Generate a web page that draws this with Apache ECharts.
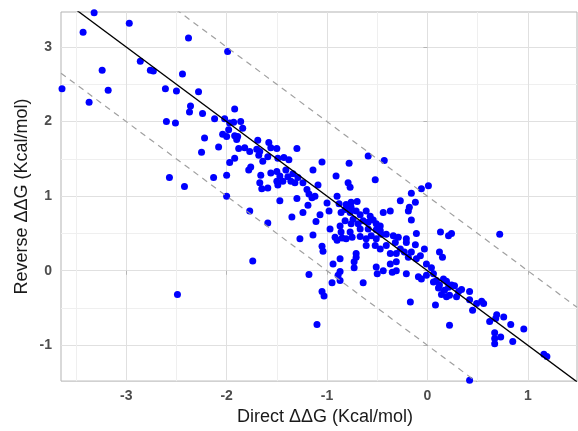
<!DOCTYPE html>
<html>
<head>
<meta charset="utf-8">
<script src="https://cdn.jsdelivr.net/npm/echarts@6/dist/echarts.min.js"></script>
<style>
  html, body { margin: 0; padding: 0; background: #fff; }
  #chart { width: 578px; height: 431px; }
</style>
</head>
<body>
<div id="chart"></div>
<script>
// direct vs reverse ddG
const directDDG = [
  -3.32, -2.97, -3.43, -2.38, -1.99, -2.86, -2.76, -2.73, -3.24, -2.44,
  -3.64, -3.18, -2.61, -2.50, -2.28, -3.37, -2.36, -2.37, -2.24, -1.92,
  -2.60, -2.51, -2.12, -2.02, -1.98, -2.04, -2.00, -2.22, -2.57, -2.42,
  -2.49, 0.42, -1.97, -1.93, -1.86, -1.84, -1.92, -1.89, -1.90, -2.08,
  -2.25, -1.88, -1.82, -1.77, -1.69, -1.70, -1.67, -1.58, -1.56, -1.50,
  -1.30, -1.68, -1.59, -1.49, -1.43, -1.38, -1.92, -1.97, -1.64, -1.76,
  -1.78, -1.66, -2.00, -2.13, -1.56, -1.50, -1.47, -1.41, -1.39, -1.34,
  -1.29, -1.44, -1.50, -1.67, -1.59, -1.65, -1.49, -1.36, -1.32, -1.24,
  -1.14, -1.05, -2.00, -1.77, -1.47, -1.30, -1.20, -1.18, -1.15, -1.12,
  -1.09, -1.19, -1.24, -1.07, -1.00, -0.98, -1.35, -1.11, -0.59, -0.43,
  -0.78, -0.52, -0.91, -0.79, -0.77, -0.90, -0.88, -0.81, -0.76, -0.70,
  -0.76, -0.82, -0.86, -0.77, -0.71, -0.61, -0.67, -0.74, -0.82, -0.87,
  -0.76, -0.69, -0.64, -0.57, -0.54, -0.59, -0.51, -0.47, -0.44, -0.37,
  -0.27, -0.19, -0.16, -0.18, -0.12, -0.16, -0.06, 0.01, 0.13, 0.21,
  0.24, -0.67, -0.61, -0.56, -0.51, -0.46, -0.41, -0.34, -0.29, -0.21,
  -0.11, -0.12, -0.03, -0.61, -0.52, -0.47, -0.41, -0.32, -0.27, -0.37,
  -0.31, -0.23, -0.19, -0.11, -0.07, -0.01, 0.04, 0.12, 0.15, -0.37,
  -0.31, -0.51, -0.71, -0.71, -0.73, -0.87, -0.94, -0.87, -0.89, -1.18,
  -1.05, -1.04, -1.27, -1.14, -0.97, -0.92, -0.90, -0.85, -0.81, -0.86,
  -0.77, -0.75, -0.67, -0.59, -0.51, -0.47, -0.09, -0.01, 0.06, -0.21,
  -0.31, 0.72, 1.16, 1.19, 0.96, 0.85, 0.76, 0.69, 0.68, 0.62,
  0.83, 0.67, 0.73, 0.67, 0.67, 0.54, 0.56, 0.49, 0.42, 0.42,
  0.45, 0.34, 0.31, 0.27, 0.22, -0.17, 0.08, 0.19, 0.17, 0.21,
  0.24, 0.14, 0.11, 0.29, 0.22, 0.16, 0.09, 0.19, 0.12, 0.06,
  -0.06, -1.59, -1.74, -0.95, -0.87, -1.05, -1.03, -1.10, -0.73, -0.64,
  -0.50, -0.44, -0.21, -0.16, -0.35
];
const reverseDDG = [
  3.46, 3.32, 3.20, 3.12, 2.94, 2.81, 2.69, 2.68, 2.69, 2.64,
  2.44, 2.42, 2.44, 2.41, 2.40, 2.26, 2.21, 2.13, 2.11, 2.17,
  2.00, 1.98, 2.04, 2.04, 1.89, 1.83, 1.80, 1.78, 1.25, 1.13,
  -0.32, -1.47, 1.98, 1.99, 2.00, 1.91, 1.81, 1.80, 1.76, 1.66,
  1.59, 1.64, 1.65, 1.60, 1.75, 1.63, 1.60, 1.72, 1.65, 1.64,
  1.64, 1.55, 1.53, 1.51, 1.52, 1.49, 1.51, 1.45, 1.47, 1.39,
  1.35, 1.28, 1.28, 1.25, 1.31, 1.33, 1.27, 1.35, 1.26, 1.30,
  1.25, 1.20, 1.20, 1.18, 1.11, 1.10, 1.15, 1.20, 1.18, 1.18,
  1.35, 1.46, 1.00, 0.80, 0.94, 0.97, 1.09, 1.03, 0.98, 1.00,
  1.15, 0.88, 0.78, 0.75, 0.91, 0.80, 0.72, 0.66, 1.54, 1.48,
  1.44, 1.22, 1.27, 1.18, 1.12, 1.00, 0.90, 0.89, 0.92, 0.93,
  0.85, 0.82, 0.78, 0.78, 0.80, 0.80, 0.75, 0.69, 0.67, 0.60,
  0.63, 0.63, 0.67, 0.73, 0.68, 0.65, 0.63, 0.60, 0.78, 0.80,
  0.94, 0.80, 0.68, 0.85, 0.92, 1.04, 1.10, 1.14, 0.52, 0.47,
  0.50, 0.46, 0.43, 0.47, 0.43, 0.49, 0.49, 0.47, 0.45, 0.43,
  0.50, 0.35, 0.29, 0.34, 0.34, 0.29, 0.34, 0.38, 0.29, 0.23,
  0.23, 0.25, 0.18, 0.16, 0.20, 0.09, 0.04, 0.25, 0.18, 0.09,
  0.12, 0.05, 0.18, 0.23, 0.12, 0.16, 0.09, -0.01, -0.06, -0.05,
  0.33, 0.26, 0.43, 0.48, 0.56, 0.45, 0.41, 0.44, 0.43, 0.52,
  0.52, 0.45, 0.56, 0.56, 0.55, 0.54, -0.08, -0.06, -0.04, -0.04,
  0.00, 0.49, -1.12, -1.15, -0.78, -0.95, -0.62, -0.59, -0.64, -0.68,
  -0.72, -0.83, -0.89, -0.91, -0.98, -0.41, -0.44, -0.44, -0.28, -0.39,
  -0.53, -0.25, -0.28, -0.20, -0.73, -0.42, -0.46, -0.35, -0.26, -0.22,
  -0.19, -0.32, -0.23, -0.35, -0.33, -0.11, -0.13, -0.14, -0.19, -0.15,
  -0.11, 0.64, 0.13, -0.16, -0.13, -0.28, -0.34, -0.72, 0.04, -0.16,
  -0.04, 0.00, 0.38, 0.25, -0.02
];

const xRange = [-3.65, 1.49];
const yRange = [-1.48, 3.47];
const xTicks = [-3, -2, -1, 0, 1];
const yTicks = [-1, 0, 1, 2, 3];

// reverse = slope * direct + intercept
const diagSlope = -1;
const diagIntercept = 0;
const bandOffsets = [1, -1];

const points = directDDG.map((x, i) => [x, reverseDDG[i]]);

function refLine(b) {
  return xRange.map(x => [x, diagSlope * x + b]);
}

const chart = echarts.init(document.getElementById('chart'), null, { renderer: 'canvas' });

const tickText = { color: '#4d4d4d', fontSize: 14, fontWeight: 'bold', fontFamily: 'Liberation Sans' };
const titleText = { color: '#1a1a1a', fontSize: 18, fontFamily: 'Liberation Sans' };

chart.setOption({
  backgroundColor: '#ffffff',
  animation: false,
  grid: {
    left: 61, right: 1, top: 12, bottom: 48,
    show: true, borderColor: '#b3b3b3', borderWidth: 1
  },
  xAxis: {
    type: 'value',
    min: xRange[0], max: xRange[1],
    name: 'Direct ΔΔG (Kcal/mol)',
    nameLocation: 'middle',
    nameGap: 25,
    nameTextStyle: { ...titleText, padding: [0, 0, 0, 12] },
    axisLine: { show: false },
    axisTick: { show: true, length: 4, customValues: xTicks, lineStyle: { color: '#b3b3b3' } },
    axisLabel: { margin: 8, customValues: xTicks, ...tickText },
    splitLine: { show: true, lineStyle: { color: '#e0e0e0', width: 1 } },
    minorTick: { show: false, splitNumber: 2 },
    minorSplitLine: { show: true, lineStyle: { color: '#efefef', width: 1 } }
  },
  yAxis: {
    type: 'value',
    min: yRange[0], max: yRange[1],
    name: 'Reverse ΔΔG (Kcal/mol)',
    nameLocation: 'middle',
    nameGap: 30,
    nameMoveOverlap: false,
    nameTextStyle: titleText,
    axisLine: { show: false },
    axisTick: { show: true, length: 4, customValues: yTicks, lineStyle: { color: '#b3b3b3' } },
    axisLabel: { margin: 9, customValues: yTicks, ...tickText },
    splitLine: { show: true, lineStyle: { color: '#e0e0e0', width: 1 } },
    minorTick: { show: false, splitNumber: 2 },
    minorSplitLine: { show: true, lineStyle: { color: '#efefef', width: 1 } }
  },
  series: [
    {
      type: 'scatter',
      data: points,
      symbolSize: 7,
      itemStyle: { color: '#0000ff', opacity: 1 },
      clip: true,
      z: 2
    },
    ...bandOffsets.map(b => ({
      type: 'line',
      data: refLine(diagIntercept + b),
      showSymbol: false,
      lineStyle: { color: '#a0a0a0', width: 1.2, type: [6, 5] },
      clip: true,
      z: 3
    })),
    {
      type: 'line',
      data: refLine(diagIntercept),
      showSymbol: false,
      lineStyle: { color: '#000000', width: 1.3 },
      clip: true,
      z: 4
    }
  ]
});
</script>
</body>
</html>
